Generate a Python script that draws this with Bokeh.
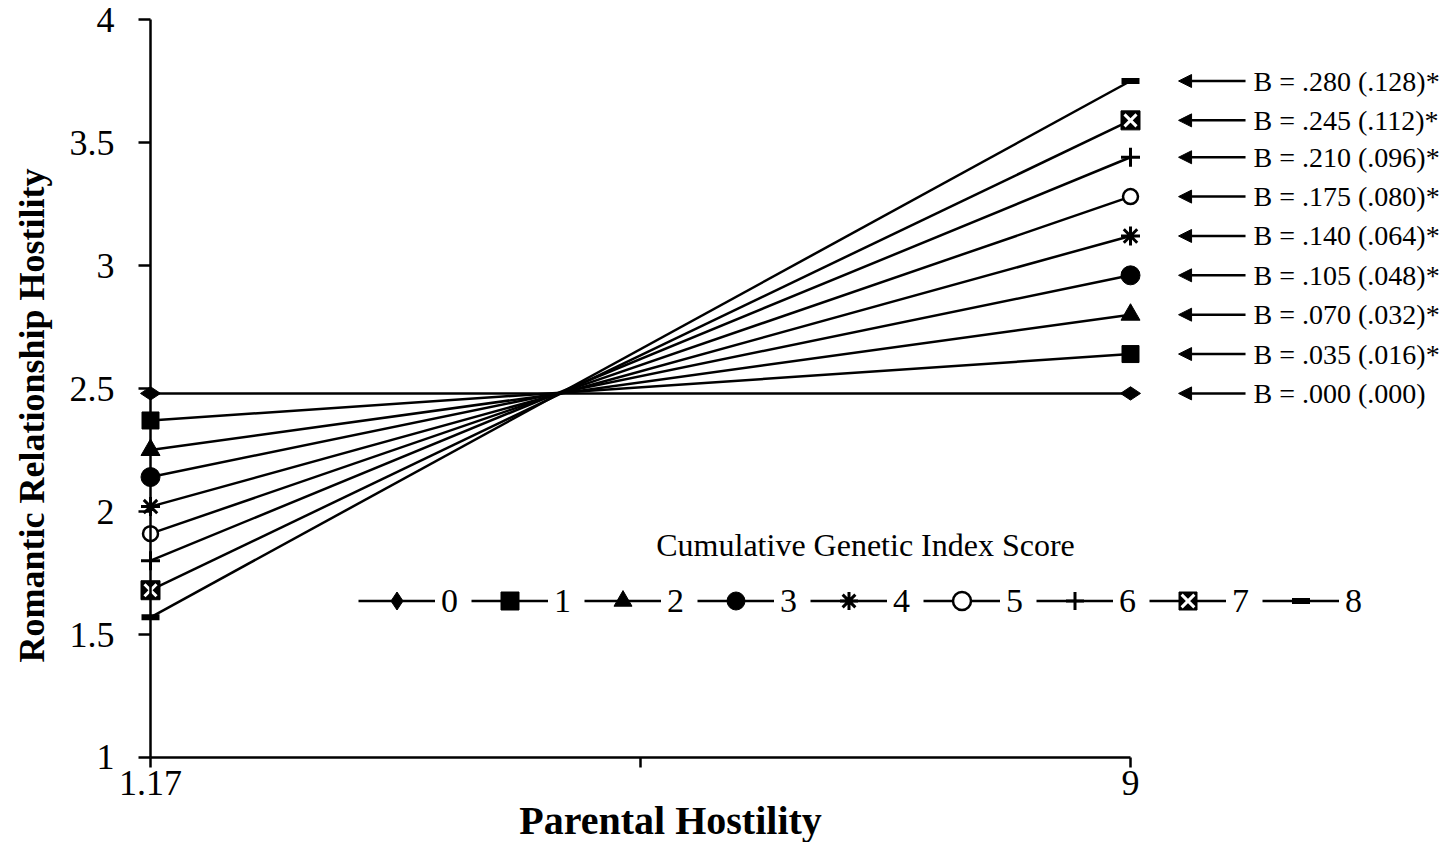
import math
from bokeh.plotting import figure
from bokeh.models import (Range1d, FixedTicker, Label, Legend, LegendItem, Arrow,
                          NormalHead, ColumnDataSource, LabelSet)
from bokeh.core.properties import value
from bokeh.embed import file_html
from bokeh.resources import INLINE

# ---------------- data ----------------
x_values = [1.17, 9]
scores = ["0", "1", "2", "3", "4", "5", "6", "7", "8"]
low_values = [2.48, 2.37, 2.25, 2.14, 2.02, 1.91, 1.80, 1.68, 1.57]
high_values = [2.48, 2.64, 2.80, 2.96, 3.12, 3.28, 3.44, 3.59, 3.75]
b_labels = ["B = .000 (.000)", "B = .035 (.016)*", "B = .070 (.032)*",
            "B = .105 (.048)*", "B = .140 (.064)*", "B = .175 (.080)*",
            "B = .210 (.096)*", "B = .245 (.112)*", "B = .280 (.128)*"]
y_ticks = [1, 1.5, 2, 2.5, 3, 3.5, 4]
y_tick_labels = ["1", "1.5", "2", "2.5", "3", "3.5", "4"]
x_ticks = [1.17, 9]
x_tick_labels = ["1.17", "9"]
x_mid_tick = [5.085]

SERIF = "Liberation Serif"
W, H = 1447, 842
X0, X1 = -0.02847, 11.5327
Y0, Y1 = 0.65447, 4.07724

p = figure(width=W, height=H, x_range=Range1d(X0, X1), y_range=Range1d(Y0, Y1),
           output_backend="svg", toolbar_location=None)
p.title = None
p.min_border = 0
p.min_border_left = p.min_border_right = p.min_border_top = p.min_border_bottom = 0
p.outline_line_color = None
p.xgrid.visible = False
p.ygrid.visible = False
p.background_fill_color = "white"

# axes
xa = p.xaxis[0]
xa.fixed_location = 1
xa.bounds = (x_ticks[0], x_ticks[-1])
xa.ticker = FixedTicker(ticks=x_ticks, minor_ticks=x_mid_tick)
xa.major_label_overrides = dict(zip(x_ticks, x_tick_labels))
xa.axis_line_width = 2.5
xa.axis_line_color = "black"
xa.major_tick_in = 0
xa.major_tick_out = 10
xa.minor_tick_in = 0
xa.minor_tick_out = 10
xa.major_tick_line_width = 2.5
xa.minor_tick_line_width = 2.5
xa.major_tick_line_color = "black"
xa.minor_tick_line_color = "black"
xa.major_label_standoff = 4
xa.major_label_text_font = SERIF
xa.major_label_text_font_size = "36px"
xa.major_label_text_color = "black"

ya = p.yaxis[0]
ya.fixed_location = x_ticks[0]
ya.bounds = (y_ticks[0], y_ticks[-1])
ya.ticker = FixedTicker(ticks=y_ticks, minor_ticks=[])
ya.major_label_overrides = dict(zip(y_ticks, y_tick_labels))
ya.axis_line_width = 2.5
ya.axis_line_color = "black"
ya.major_tick_in = 0
ya.major_tick_out = 12
ya.major_tick_line_width = 2.5
ya.major_tick_line_color = "black"
ya.major_label_standoff = 24
ya.major_label_text_font = SERIF
ya.major_label_text_font_size = "36px"
ya.major_label_text_color = "black"

# series
marker_specs = [
    [dict(marker="diamond", size=20, angle=math.pi / 2, fill_color="black", line_color="black", line_width=1)],
    [dict(marker="square", size=17, fill_color="black", line_color="black", line_width=1)],
    [dict(marker="triangle", size=19, fill_color="black", line_color="black", line_width=1)],
    [dict(marker="circle", size=19, fill_color="black", line_color="black", line_width=1)],
    [dict(marker="asterisk", size=19, line_color="black", line_width=3)],
    [dict(marker="circle", size=15, fill_color="white", line_color="black", line_width=2.5)],
    [dict(marker="cross", size=19, line_color="black", line_width=3)],
    [dict(marker="square", size=19, fill_color="black", line_color="black", line_width=1),
     dict(marker="x", size=17, line_color="white", line_width=3)],
    [dict(marker="dash", size=18, line_color="black", line_width=6)],
]

items = []
for i, s in enumerate(scores):
    src = ColumnDataSource(dict(x=x_values, y=[low_values[i], high_values[i]]))
    lr = p.line("x", "y", source=src, line_color="black", line_width=2.5)
    rs = [lr]
    for spec in marker_specs[i]:
        rs.append(p.scatter("x", "y", source=src, **spec))
    items.append(LegendItem(label=value(s), renderers=rs))

legend = Legend(items=items, orientation="horizontal", location=(358, 219),
                glyph_width=77, glyph_height=45, label_standoff=6, spacing=10,
                padding=0, margin=0, border_line_color=None,
                background_fill_alpha=0, label_text_font=SERIF,
                label_text_font_size="34px", label_text_color="black")
p.add_layout(legend)

# annotations (arrows + B coefficients)
ann = ColumnDataSource(dict(x0=[9.919] * len(scores), x1=[9.384] * len(scores),
                            xt=[9.983] * len(scores), y=high_values, b=b_labels))
p.add_layout(Arrow(x_start="x0", y_start="y", x_end="x1", y_end="y", source=ann,
                   line_width=2.5, line_color="black",
                   end=NormalHead(size=13, fill_color="black", line_color="black", line_width=1)))
p.add_layout(LabelSet(x="xt", y="y", text="b", source=ann, text_font=value(SERIF),
                      text_font_size="28px", text_baseline="middle", text_color="black"))

# titles
p.add_layout(Label(x=6.883, y=1.862, text="Cumulative Genetic Index Score",
                   text_font=SERIF, text_font_size="32px", text_align="center",
                   text_baseline="middle", text_color="black"))
p.add_layout(Label(x=5.325, y=0.744, text="Parental Hostility", text_font=SERIF,
                   text_font_size="40px", text_font_style="bold", text_align="center",
                   text_baseline="middle", text_color="black"))
p.add_layout(Label(x=0.227, y=2.39, text="Romantic Relationship Hostility", angle=math.pi / 2,
                   text_font=SERIF, text_font_size="36px", text_font_style="bold",
                   text_align="center", text_baseline="middle", text_color="black"))

open("out.html", "w").write(file_html(p, INLINE))
